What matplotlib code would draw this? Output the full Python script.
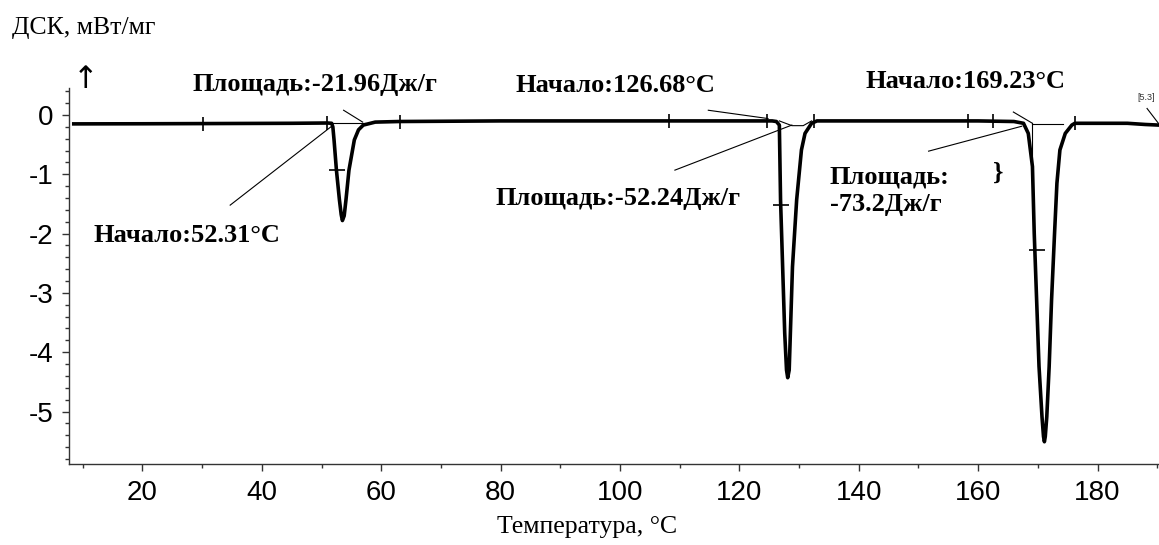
import matplotlib
matplotlib.use("Agg")
import matplotlib.pyplot as plt
from matplotlib.ticker import MultipleLocator

plt.rcParams['axes.unicode_minus'] = False

# ---- data ----
temp = [8.5, 20, 30, 45, 51.0, 51.7, 51.9, 52.1, 52.5, 53.0, 53.3, 53.5, 53.8, 54.1, 54.6, 55.5,
        56.2, 57.0, 59.0, 63.0, 80, 100, 120, 125.5, 126.2, 126.7, 126.9, 127.25, 127.6, 127.9,
        128.1, 128.35, 128.9, 129.6, 130.4, 131.0, 132.1, 133, 140, 150, 160, 166, 167.6,
        168.4, 169.1, 169.4, 169.8, 170.2, 170.7, 170.95, 171.1, 171.25, 171.5, 171.9, 172.3,
        172.8, 173.2, 173.7, 174.6, 175.7, 176.2, 180, 185, 188, 190.2]
dsc = [-0.15, -0.148, -0.145, -0.14, -0.135, -0.14, -0.2, -0.42, -0.93, -1.43, -1.68, -1.78, -1.7,
       -1.43, -0.93, -0.42, -0.25, -0.17, -0.12, -0.11, -0.1, -0.1, -0.1, -0.1, -0.11, -0.17,
       -1.43, -2.56, -3.68, -4.3, -4.43, -4.3, -2.56, -1.43, -0.59, -0.31, -0.14, -0.1, -0.1,
       -0.1, -0.1, -0.11, -0.14, -0.31, -0.87, -2.0, -3.12, -4.24, -5.09, -5.42, -5.51, -5.42,
       -5.09, -4.24, -3.12, -2.0, -1.15, -0.59, -0.31, -0.17, -0.14, -0.14, -0.14, -0.16, -0.17]

# cross marks placed on the curve by the instrument software
base_mark_t = [30.2, 51.0, 63.2, 108.2, 124.7, 132.5, 158.3, 162.5, 176.2]
base_mark_v = [-0.145, -0.135, -0.11, -0.1, -0.1, -0.1, -0.1, -0.1, -0.14]
flank_mark_t = [52.6, 126.95, 169.8]
flank_mark_v = [-0.92, -1.52, -2.28]

x_ticks = [20, 40, 60, 80, 100, 120, 140, 160, 180]
y_ticks = [0, -1, -2, -3, -4, -5]

W, H, DPI = 1159, 545, 100
fig = plt.figure(figsize=(W / DPI, H / DPI), dpi=DPI)
ax = fig.add_axes([69 / W, 1 - 464.3 / H, (1159 - 69) / W, (464.3 - 88.3) / H])

ax.plot(temp, dsc, color='black', lw=2.6, solid_joinstyle='round', zorder=3)
ax.plot(base_mark_t, base_mark_v, ls='none', marker='|', ms=10, mew=1.2, color='black', zorder=4)
ax.plot(flank_mark_t, flank_mark_v, ls='none', marker='_', ms=11, mew=1.2, color='black', zorder=4)

thin = dict(color='black', lw=0.8, zorder=2)
# integration baselines / onset construction lines
ax.plot([51.7, 57.3], [-0.13, -0.13], **thin)
ax.plot([126.7, 128.8, 130.7, 132.1], [-0.1, -0.18, -0.18, -0.1], **thin)
ax.plot([169.1, 174.2], [-0.15, -0.15], **thin)
ax.plot([169.1, 169.1], [-0.14, -0.85], **thin)
# leader lines
ax.plot([34.7, 51.7], [-1.52, -0.19], **thin)
ax.plot([53.7, 56.9], [0.08, -0.12], **thin)
ax.plot([114.8, 124.8], [0.08, -0.06], **thin)
ax.plot([109.2, 128.8], [-0.93, -0.17], **thin)
ax.plot([165.9, 169.1], [0.05, -0.14], **thin)
ax.plot([151.7, 167.3], [-0.61, -0.19], **thin)
ax.plot([188.3, 190.2], [0.11, -0.14], **thin)

ax.set_xlim(7.7, 190.3)
ax.set_ylim(-5.89, 0.45)
ax.xaxis.set_major_locator(MultipleLocator(20))
ax.xaxis.set_minor_locator(MultipleLocator(10))
ax.yaxis.set_major_locator(MultipleLocator(1))
ax.yaxis.set_minor_locator(MultipleLocator(0.2))
ax.set_xticks(x_ticks)
ax.set_yticks(y_ticks)
ax.set_xticklabels([str(v) for v in x_ticks])
ax.set_yticklabels([str(v) for v in y_ticks])

for s in ['top', 'right']:
    ax.spines[s].set_visible(False)
for s in ['left', 'bottom']:
    ax.spines[s].set_color('#333333')
    ax.spines[s].set_linewidth(1.0)
ax.tick_params(which='major', direction='out', length=5, width=1, color='#333333',
               labelsize=20, pad=6)
ax.tick_params(which='minor', direction='out', length=3, width=1, color='#333333')
for lab in ax.get_xticklabels() + ax.get_yticklabels():
    lab.set_family('Liberation Sans')

serif = 'Liberation Serif'
bold = dict(family=serif, fontweight='bold', fontsize=19, color='black')


def px(x, y):
    return (x / W, 1 - y / H)


fig.text(*px(193, 84), 'Площадь:-21.96Дж/г', ha='left', va='center', **bold)
fig.text(*px(515, 85), 'Начало:126.68°C', ha='left', va='center', **bold)
fig.text(*px(865, 82), 'Начало:169.23°C', ha='left', va='center', **bold)
fig.text(*px(495, 198), 'Площадь:-52.24Дж/г', ha='left', va='center', **bold)
fig.text(*px(830, 177), 'Площадь:', ha='left', va='center', **bold)
fig.text(*px(830, 205), '-73.2Дж/г', ha='left', va='center', **bold)
fig.text(*px(93, 236), 'Начало:52.31°C', ha='left', va='center', **bold)
fig.text(*px(998, 173), '}', ha='center', va='center', **bold)
fig.text(*px(1146, 98), '[5.3]', ha='center', va='center', family='Liberation Sans',
         fontsize=6.5, color='#333333')
fig.text(*px(86, 80), '↑', ha='center', va='center', family='DejaVu Sans', fontsize=22,
         color='black')

fig.text(*px(12, 28), 'ДСК, мВт/мг', ha='left', va='center', family=serif, fontsize=18.5)
fig.text(*px(587, 527), 'Температура, °C', ha='center', va='center', family=serif, fontsize=18.5)

fig.savefig('out.png', dpi=DPI)
